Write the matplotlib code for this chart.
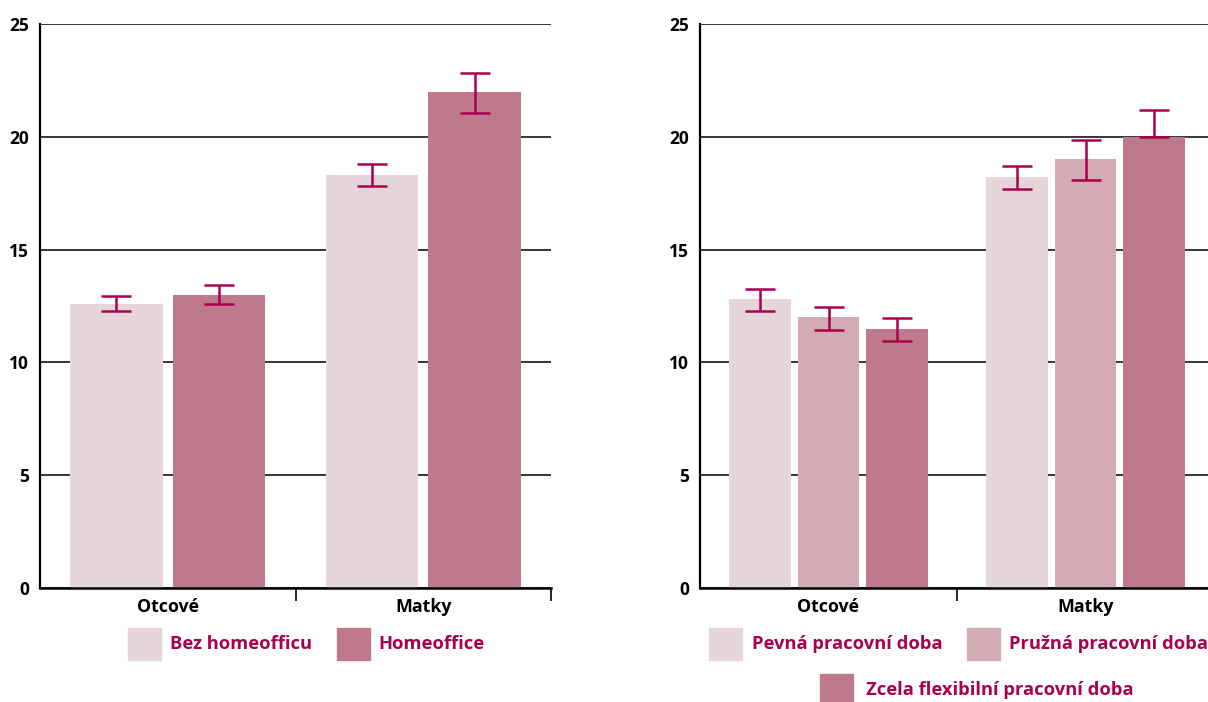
import matplotlib.pyplot as plt
from matplotlib.patches import Rectangle
import numpy as np

plt.rcParams['font.family'] = ['Open Sans', 'DejaVu Sans']
plt.rcParams['font.weight'] = 'bold'

groups = ['Otcové', 'Matky']
y_ticks = [0, 5, 10, 15, 20, 25]

# Left panel: home office
left_labels = ['Bez homeofficu', 'Homeoffice']
left_values = [[12.6, 18.3], [13.0, 22.0]]
left_err_low = [[0.33, 0.5], [0.4, 0.95]]
left_err_high = [[0.33, 0.5], [0.45, 0.85]]

# Right panel: working time arrangement
right_labels = ['Pevná pracovní doba', 'Pružná pracovní doba', 'Zcela flexibilní pracovní doba']
right_values = [[12.8, 18.2], [12.0, 19.0], [11.5, 20.0]]
right_err_low = [[0.5, 0.5], [0.55, 0.9], [0.55, 0.0]]
right_err_high = [[0.45, 0.5], [0.45, 0.85], [0.45, 1.2]]

light = '#E6D6DA'
mid = '#D2ABB3'
dark = '#BE7A8A'
accent = '#A8004F'

left_colors = [light, dark]
right_colors = [light, mid, dark]

W, H = 1208, 702
fig = plt.figure(figsize=(W / 100, H / 100), dpi=100)


def panel(rect, labels, values, elow, ehigh, colors, width, gap):
    ax = fig.add_axes(rect)
    n = len(labels)
    x = np.arange(len(groups))
    step = width + gap
    for i in range(n):
        off = (i - (n - 1) / 2) * step
        ax.bar(x + off, values[i], width=width, color=colors[i], zorder=3)
        ax.errorbar(x + off, values[i], yerr=[elow[i], ehigh[i]], fmt='none',
                    ecolor=accent, elinewidth=1.8, capsize=10.5, capthick=1.8,
                    zorder=4)
    ax.set_xlim(-0.5, len(groups) - 0.5)
    ax.set_ylim(0, 25)
    ax.set_yticks(y_ticks)
    ax.set_yticklabels([str(t) for t in y_ticks], fontsize=12.5, fontweight='bold')
    ax.yaxis.grid(True, color='black', linewidth=1.1, zorder=1)
    ax.set_axisbelow(True)
    ax.tick_params(axis='y', length=0, pad=8)
    ax.set_xticks(x)
    ax.set_xticklabels(groups, fontsize=12.8, fontweight='bold')
    ax.set_xticks(np.arange(1, len(groups) + 1) - 0.5, minor=True)
    ax.tick_params(axis='x', which='major', length=0, pad=7)
    ax.tick_params(axis='x', which='minor', length=9, width=1.2, direction='out')
    for s in ['top', 'right']:
        ax.spines[s].set_visible(False)
    ax.spines['left'].set_linewidth(1.6)
    ax.spines['bottom'].set_linewidth(1.8)
    ax.spines['bottom'].set_zorder(5)
    return ax


ax_l = panel([40 / W, 1 - 588 / H, 511 / W, 564 / H], left_labels, left_values,
             left_err_low, left_err_high, left_colors, 0.363, 0.039)
ax_r = panel([700 / W, 1 - 588 / H, 514 / W, 564 / H], right_labels, right_values,
             right_err_low, right_err_high, right_colors, 0.241, 0.027)


def legend_item(px, py, label, color, tx):
    fig.patches.append(Rectangle((px / W, 1 - (py + 32) / H), 33 / W, 32 / H,
                                 transform=fig.transFigure, color=color))
    fig.text(tx / W, 1 - (py + 16) / H, label, color=accent, fontsize=13.2,
             fontweight='bold', va='center', ha='left')


legend_item(128, 628, left_labels[0], left_colors[0], 170)
legend_item(337, 628, left_labels[1], left_colors[1], 378)
legend_item(709, 628, right_labels[0], right_colors[0], 752)
legend_item(967, 628, right_labels[1], right_colors[1], 1009)
legend_item(820, 674, right_labels[2], right_colors[2], 866)

fig.savefig('out.png', dpi=100)
